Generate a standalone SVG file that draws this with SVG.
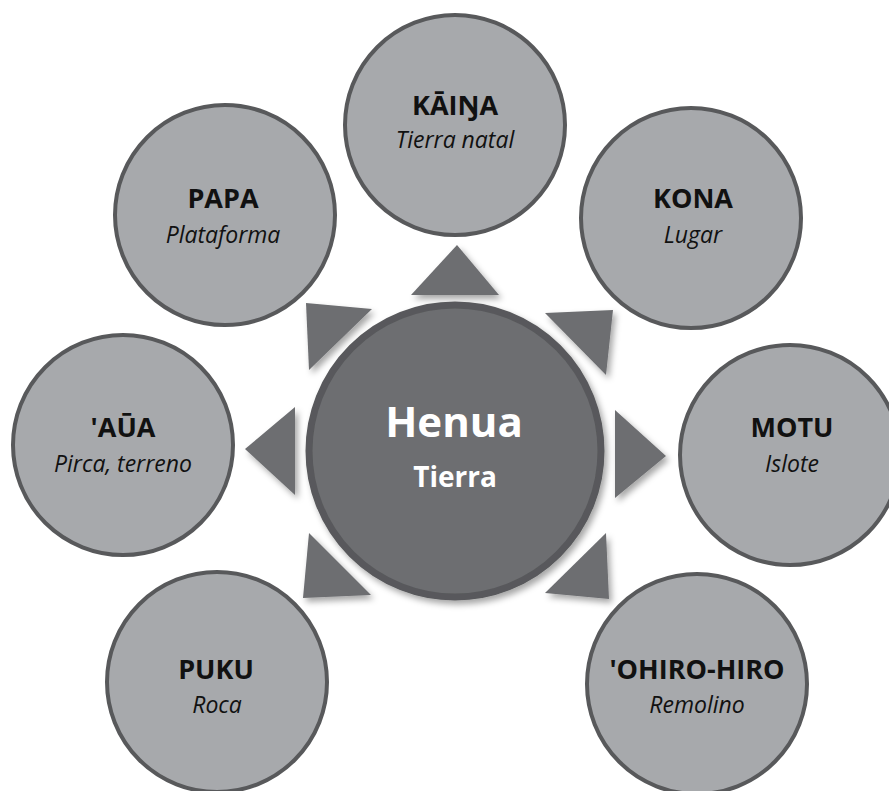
<svg xmlns="http://www.w3.org/2000/svg" width="889" height="791" viewBox="0 0 889 791">
  <defs>
    <filter id="shadow" x="-30%" y="-30%" width="160%" height="160%">
      <feDropShadow dx="3" dy="4" stdDeviation="3" flood-color="#000" flood-opacity="0.35"/>
    </filter>
  </defs>
  <style>
    .node circle { fill: #a7a9ac; stroke: #58595b; stroke-width: 4; }
    .title { font-family: "Open Sans", "Noto Sans", sans-serif; font-weight: bold; font-size: 27px; fill: #111; text-anchor: middle; }
    .sub { font-family: "Open Sans", "Noto Sans", sans-serif; font-style: italic; font-size: 23px; fill: #111; text-anchor: middle; }
    .arrow { fill: #6d6e71; filter: url(#shadow); }
    .hub circle { fill: #6d6e71; stroke: #58595b; stroke-width: 7; filter: url(#shadow); }
    .hub text { font-family: "Open Sans", "Noto Sans", sans-serif; font-weight: bold; fill: #fff; text-anchor: middle; }
  </style>
  <rect width="889" height="791" fill="#fff"/>

  <g id="kaina" class="node">
    <circle cx="455" cy="125" r="110"/>
    <text class="title" x="455" y="115">KĀIŊA</text>
    <text class="sub" x="455" y="148">Tierra natal</text>
  </g>
  <g id="kona" class="node">
    <circle cx="691" cy="218" r="110"/>
    <text class="title" x="693" y="208">KONA</text>
    <text class="sub" x="693" y="243">Lugar</text>
  </g>
  <g id="motu" class="node">
    <circle cx="790" cy="455" r="110"/>
    <text class="title" x="792" y="437">MOTU</text>
    <text class="sub" x="792" y="472">Islote</text>
  </g>
  <g id="ohiro-hiro" class="node">
    <circle cx="697" cy="684" r="110"/>
    <text class="title" x="697" y="679">'OHIRO-HIRO</text>
    <text class="sub" x="697" y="713">Remolino</text>
  </g>
  <g id="puku" class="node">
    <circle cx="217" cy="682" r="110"/>
    <text class="title" x="216" y="679">PUKU</text>
    <text class="sub" x="217" y="713">Roca</text>
  </g>
  <g id="aua" class="node">
    <circle cx="123" cy="445" r="110"/>
    <text class="title" x="123" y="437">'AŪA</text>
    <text class="sub" x="123" y="472">Pirca, terreno</text>
  </g>
  <g id="papa" class="node">
    <circle cx="225" cy="215" r="110"/>
    <text class="title" x="223" y="208">PAPA</text>
    <text class="sub" x="223" y="243">Plataforma</text>
  </g>

  <g id="connectors">
    <polygon class="arrow" points="457,245 499,295 411,295"/>
    <polygon class="arrow" points="613,310 606,375 545,313"/>
    <polygon class="arrow" points="666,456 615,498 615,410"/>
    <polygon class="arrow" points="609,599 545,593 606,533"/>
    <polygon class="arrow" points="303,598 309,533 371,595"/>
    <polygon class="arrow" points="245,449 295,407 295,495"/>
    <polygon class="arrow" points="306,303 372,309 309,370"/>
  </g>

  <g id="henua" class="hub">
    <circle cx="455" cy="451" r="146"/>
    <text x="454" y="437" font-size="42">Henua</text>
    <text x="455" y="487" font-size="28">Tierra</text>
  </g>
</svg>
